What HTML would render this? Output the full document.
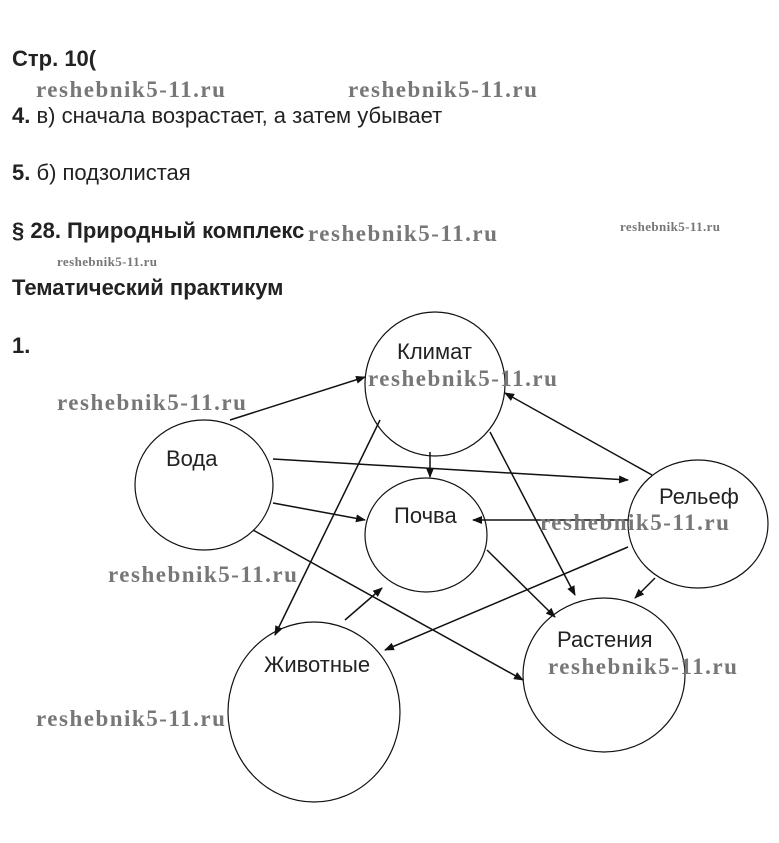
<!DOCTYPE html>
<html><head><meta charset="utf-8"><style>
body{margin:0;width:779px;height:843px;background:#fff;position:relative;overflow:hidden;font-family:"Liberation Sans",sans-serif;color:#222}
.t{position:absolute;font-size:22px;white-space:nowrap;line-height:1}
.b{font-weight:bold}
.w{position:absolute;font-family:"Liberation Serif",serif;font-weight:bold;color:#777;font-size:23px;white-space:nowrap;letter-spacing:1.5px;line-height:1}
.s{font-size:13px;letter-spacing:0.4px}
svg{position:absolute;left:0;top:0}
</style></head><body>
<svg width="779" height="843">
<defs><marker id="a" markerWidth="10" markerHeight="8" refX="9" refY="4" orient="auto" markerUnits="userSpaceOnUse"><path d="M0,0 L10,4 L0,8z" fill="#111"/></marker></defs>
<g fill="none" stroke="#111" stroke-width="1.2">
<ellipse cx="435" cy="384" rx="70" ry="72"/>
<ellipse cx="204" cy="485" rx="69" ry="65"/>
<ellipse cx="426" cy="535" rx="61" ry="57"/>
<ellipse cx="698" cy="524" rx="70" ry="64"/>
<ellipse cx="604" cy="675" rx="81" ry="77"/>
<ellipse cx="314" cy="712" rx="86" ry="90"/>
</g>
<g stroke="#111" stroke-width="1.5" marker-end="url(#a)">
<line x1="230" y1="420" x2="365" y2="377"/>
<line x1="273" y1="459" x2="628" y2="480"/>
<line x1="273" y1="503" x2="365" y2="520"/>
<line x1="253" y1="530" x2="523" y2="680"/>
<line x1="430" y1="452" x2="430" y2="477"/>
<line x1="380" y1="420" x2="275" y2="635"/>
<line x1="490" y1="432" x2="575" y2="595"/>
<line x1="652" y1="475" x2="505" y2="393"/>
<line x1="628" y1="520" x2="473" y2="520"/>
<line x1="628" y1="547" x2="385" y2="650"/>
<line x1="655" y1="578" x2="635" y2="598"/>
<line x1="487" y1="550" x2="555" y2="617"/>
<line x1="345" y1="620" x2="382" y2="588"/>
</g>
</svg>
<div class="t b" style="left:12px;top:48px">Стр. 10(</div>
<div class="w" style="left:36px;top:78px">reshebnik5-11.ru</div>
<div class="w" style="left:348px;top:78px">reshebnik5-11.ru</div>
<div class="t" style="left:12px;top:105px"><b>4.</b> в) сначала возрастает, а затем убывает</div>
<div class="t" style="left:12px;top:162px"><b>5.</b> б) подзолистая</div>
<div class="t b" style="left:12px;top:220px">§ 28. Природный комплекс</div>
<div class="w" style="left:308px;top:222px">reshebnik5-11.ru</div>
<div class="w s" style="left:620px;top:220px">reshebnik5-11.ru</div>
<div class="w s" style="left:57px;top:255px">reshebnik5-11.ru</div>
<div class="t b" style="left:12px;top:277px">Тематический практикум</div>
<div class="t b" style="left:12px;top:335px">1.</div>
<div class="t" style="left:397px;top:341px">Климат</div>
<div class="w" style="left:368px;top:367px">reshebnik5-11.ru</div>
<div class="w" style="left:57px;top:391px">reshebnik5-11.ru</div>
<div class="t" style="left:166px;top:448px">Вода</div>
<div class="t" style="left:659px;top:486px">Рельеф</div>
<div class="t" style="left:394px;top:505px">Почва</div>
<div class="w" style="left:540px;top:511px">reshebnik5-11.ru</div>
<div class="w" style="left:108px;top:563px">reshebnik5-11.ru</div>
<div class="t" style="left:557px;top:629px">Растения</div>
<div class="t" style="left:264px;top:654px">Животные</div>
<div class="w" style="left:548px;top:655px">reshebnik5-11.ru</div>
<div class="w" style="left:36px;top:707px">reshebnik5-11.ru</div>
</body></html>
